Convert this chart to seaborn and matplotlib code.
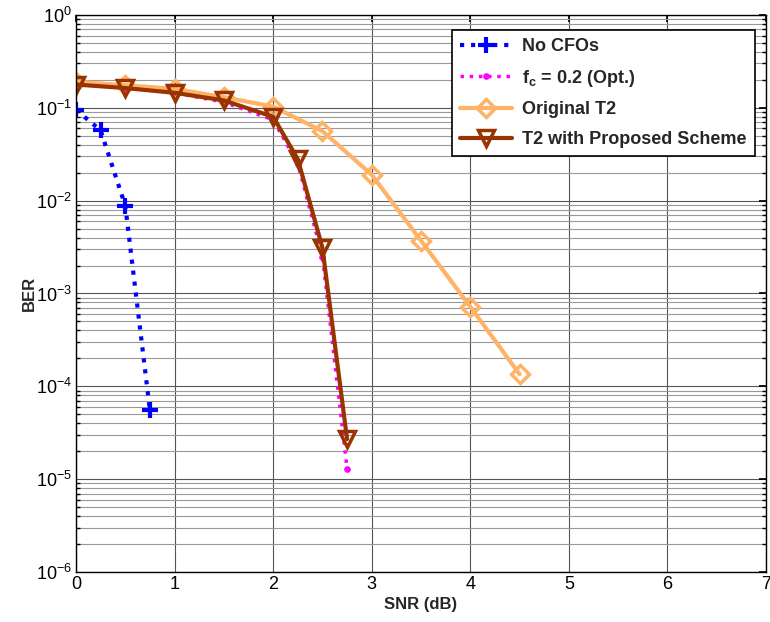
import numpy as np
import pandas as pd
import matplotlib
matplotlib.use("Agg")
import matplotlib.pyplot as plt
import matplotlib.ticker as mticker
import seaborn as sns

# data
snr_nocfo = [0, 0.25, 0.5, 0.75]
ber_nocfo = [0.095, 0.057, 0.0088, 5.5e-5]

snr_opt = [0, 0.5, 1, 1.5, 2, 2.25, 2.5, 2.75]
ber_opt = [0.18, 0.165, 0.145, 0.115, 0.074, 0.025, 0.0025, 1.3e-5]

snr_orig = [0, 0.5, 1, 1.5, 2, 2.5, 3, 3.5, 4, 4.5]
ber_orig = [0.19, 0.175, 0.16, 0.13, 0.103, 0.056, 0.019, 0.0037, 7.2e-4, 1.35e-4]

snr_prop = [0, 0.5, 1, 1.5, 2, 2.25, 2.5, 2.75]
ber_prop = [0.178, 0.163, 0.145, 0.12, 0.08, 0.028, 0.0031, 2.7e-5]

sns.set_theme(style="white")
plt.rcParams['font.family'] = ['Liberation Sans', 'DejaVu Sans']
plt.rcParams['mathtext.fontset'] = 'custom'
plt.rcParams['mathtext.rm'] = 'Liberation Sans'
plt.rcParams['mathtext.bf'] = 'Liberation Sans:bold'
plt.rcParams['mathtext.it'] = 'Liberation Sans:italic'


def main():
    fig = plt.figure(figsize=(7.7, 6.22), dpi=100)
    ax = fig.add_axes([0.0987, 0.0804, 0.8961, 0.8956])

    blue, magenta, orange, brown = '#0000ff', '#ff00ff', '#ffb366', '#993300'
    sns.lineplot(x=snr_nocfo, y=ber_nocfo, ax=ax, color=blue, lw=3,
                 linestyle=':', marker='+', markersize=11, mew=3, mec=blue,
                 label='No CFOs')
    sns.lineplot(x=snr_opt, y=ber_opt, ax=ax, color=magenta, lw=2.5,
                 linestyle=':', marker='o', markersize=4, mec=magenta,
                 mfc=magenta, label=r'$\mathbf{f_c}$ = 0.2 (Opt.)')
    sns.lineplot(x=snr_orig, y=ber_orig, ax=ax, color=orange, lw=3,
                 marker='D', markersize=9, mew=2.5, mec=orange, mfc='none',
                 label='Original T2')
    sns.lineplot(x=snr_prop, y=ber_prop, ax=ax, color=brown, lw=3,
                 marker='v', markersize=12, mew=2.5, mec=brown, mfc='none',
                 label='T2 with Proposed Scheme')

    ax.set_yscale('log')
    ax.set_xlim(0, 7)
    ax.set_ylim(1e-6, 1)
    ax.set_xticks(range(8))
    ax.set_yticks([10.0 ** k for k in range(-6, 1)])
    ax.yaxis.set_minor_locator(mticker.LogLocator(base=10, subs=np.arange(2, 10), numticks=100))
    ax.yaxis.set_minor_formatter(mticker.NullFormatter())

    ax.grid(True, which='major', color='#555555', lw=0.8)
    ax.grid(True, which='minor', axis='y', color='#999999', lw=0.8)
    ax.set_axisbelow(True)

    ax.tick_params(which='both', direction='in', top=True, right=True,
                   labelsize=13, colors='black')
    ax.tick_params(which='major', length=5, pad=3)
    ax.tick_params(which='minor', length=3, left=True, right=True)
    for s in ax.spines.values():
        s.set_color('black')
        s.set_linewidth(1)

    ax.set_xlabel('SNR (dB)', fontsize=12, fontweight='bold', labelpad=3)
    ax.set_ylabel('BER', fontsize=12, fontweight='bold', labelpad=-1)

    leg = ax.legend(loc='upper right', bbox_to_anchor=(0.984, 0.973),
                    borderaxespad=0,
                    prop={'weight': 'bold', 'size': 13}, fancybox=False,
                    framealpha=1, edgecolor='black', handlelength=2.9,
                    borderpad=0.45, labelspacing=0.7, handletextpad=0.55)
    leg.get_frame().set_linewidth(1.2)

    fig.savefig('out.png', dpi=100)
    plt.close(fig)


if __name__ == "__main__":
    main()
